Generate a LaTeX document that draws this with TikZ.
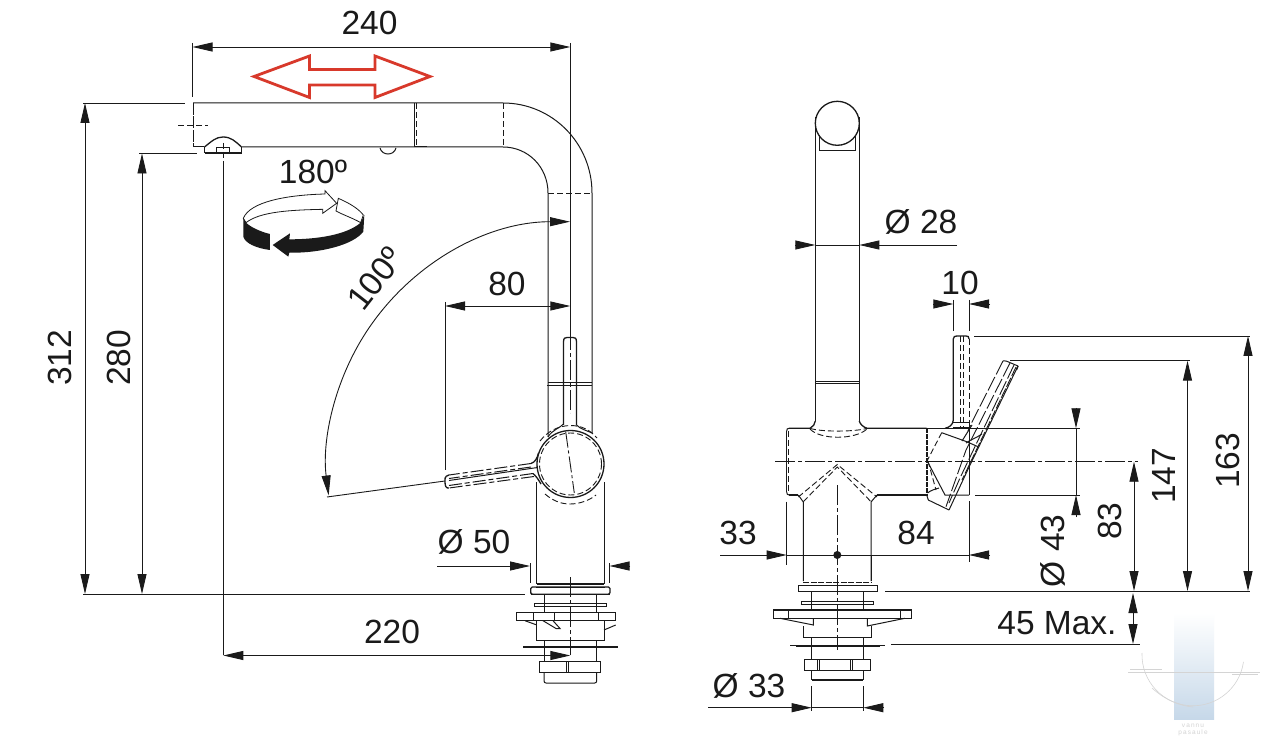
\documentclass[tikz,border=0pt]{standalone}
\usepackage{fontspec}
\setmainfont{Liberation Sans}
\usetikzlibrary{arrows.meta}
\definecolor{ink}{HTML}{1A1A1A}
\definecolor{redarrow}{HTML}{D8392B}
\definecolor{wm}{HTML}{C6D8E9}
\definecolor{wmline}{HTML}{D4D4D4}
\tikzset{
  lab/.style={font=\fontsize{33.5}{33.5}\selectfont,text=ink,inner sep=0pt},
  ln/.style={draw=ink,line width=1pt},
  thk/.style={draw=ink,line width=1.3pt},
  dimline/.style={draw=ink,line width=.9pt,-{Triangle[length=20pt,width=9pt]}},
  dimboth/.style={draw=ink,line width=.9pt,{Triangle[length=20pt,width=9pt]}-{Triangle[length=20pt,width=9pt]}},
  ext/.style={draw=ink,line width=.9pt},
  dashln/.style={draw=ink,line width=.9pt,dash pattern=on 6pt off 3pt},
  cline/.style={draw=ink,line width=.9pt,dash pattern=on 20pt off 3pt on 4pt off 3pt},
}
\begin{document}
\begin{tikzpicture}[x=1pt,y=-1pt]
\useasboundingbox (0,0) rectangle (1262,743);
\fill[white] (0,0) rectangle (1262,743);

%% watermark
\shade[top color=white,bottom color=wm] (1174,613) rectangle (1214,719);
\draw[wmline,line width=.6pt] (1142,653) arc[start angle=178,end angle=352,radius=51pt];
\draw[wmline,line width=.6pt] (1152,688) .. controls (1165,700) and (1180,706) .. (1193,707);
\draw[wmline,line width=.6pt] (1128,672) -- (1260,672);
\draw[wmline,line width=.6pt] (1130,669) -- (1162,669);
\draw[wmline,line width=.6pt] (1232,674) -- (1258,674);
\node[inner sep=0pt,text=wmline,font=\fontsize{6.5}{6.5}\selectfont] (wm1) at (1193,726) {v\,a\,n\,n\,u};
\node[inner sep=0pt,text=wmline,font=\fontsize{6.5}{6.5}\selectfont] (wm2) at (1193,733) {p\,a\,s\,a\,u\,l\,e};

%%%%%%%%%% LEFT VIEW
%% spout
\draw[ln] (193,103) -- (503,103) .. controls (552,103) and (592,143) .. (592,193) -- (592,433);
\draw[ln] (193,147) -- (204,147);
\draw[ln] (242,147) -- (503,147) .. controls (528,147) and (548,167) .. (548,193) -- (548,437);
\draw[draw=ink,line width=1.8pt,dash pattern=on 12pt off 1.5pt] (193.5,103) -- (193.5,147);
\draw[dashln] (178,125.5) -- (208,125.5);
\draw[dashln] (503,103) -- (503,147);
\draw[ln] (414,103) -- (414,147);
\draw[dashln] (416.5,103) -- (416.5,147);
\draw[thk] (414,146.5) -- (427,146.5);
\draw[ln] (380,148) .. controls (382,156) and (394,156) .. (396,148);
\draw[dashln] (548,193) -- (592,193);
\draw[ln] (548,383) -- (592,383);
\draw[ln] (547,385.5) -- (592,385.5);
%% aerator
\draw[thk] (204.5,147) .. controls (212,141) and (216,137) .. (223,137) .. controls (231,137) and (235,141) .. (241.5,147);
\draw[draw=ink,line width=1.6pt] (204.5,153) -- (241.5,153);
\draw[ln] (204.5,147) -- (204.5,153) (241.5,147) -- (241.5,153);
\draw[ln] (216.5,153) rectangle (229.5,147.5);
\draw[dashln] (223.3,143) -- (223.3,162);
\draw[ext] (223.3,162) -- (223.3,655);

%% red arrow
\draw[redarrow,line width=2.8pt,line join=miter,miter limit=10] (254,76.5) -- (309.5,56) -- (309.5,69.5) -- (375,69.5) -- (375,56) -- (430,76.5) -- (375,97.5) -- (375,85) -- (309.5,85) -- (309.5,97.5) -- cycle;

%% handle (vertical position)
\draw[ln] (548,437) .. controls (552,430) and (560,428) .. (563.5,424);
\draw[thk] (563.5,425) -- (563.5,342) .. controls (563.5,338) and (565,337.5) .. (567,337.5) -- (573,337.5) .. controls (575,337.5) and (576.5,338) .. (576.5,342) -- (576.5,425);
\draw[ext] (570.3,43) -- (570.3,330);
\draw[cline] (570.3,330) -- (570.3,413);
\draw[ln] (576.5,425) .. controls (580,429) and (588,431) .. (592,433);
%% head circle
\draw[thk] (570.5,464) circle[radius=33.5pt];
\draw[dashln] (570.5,464) circle[radius=31pt];
\draw[dashln] (540,441) .. controls (548,431) and (558,426) .. (570,425.5) .. controls (582,425.5) and (590,430) .. (597,438);
\draw[dashln] (545,494) .. controls (552,500) and (560,504) .. (570,504) .. controls (580,504) and (590,500) .. (596,495);
\draw[draw=ink,line width=.9pt,dash pattern=on 16pt off 3pt on 3pt off 3pt] (565.7,431.7) -- (574.3,493);
%% lever
\draw[thk] (538.5,453) .. controls (537,459) and (535,462) .. (531,463.5);
\draw[draw=ink,line width=1pt,dash pattern=on 13pt off 3pt on 5pt off 3pt] (531,463.5) -- (449,475);
\draw[draw=ink,line width=1pt,dash pattern=on 13pt off 3pt on 5pt off 3pt] (531,467) -- (449,478.5);
\draw[ln] (537.5,467.5) -- (449,480.5);
\draw[draw=ink,line width=1pt,dash pattern=on 13pt off 3pt on 5pt off 3pt] (533,473.5) -- (449,485.5);
\draw[draw=ink,line width=1pt,dash pattern=on 13pt off 3pt on 5pt off 3pt] (534,476.5) -- (449,488);
\draw[thk] (533,473.5) .. controls (536,476) and (538,479) .. (541,484);
\draw[thk] (449,475) .. controls (444,476) and (445,480) .. (445,482) .. controls (445,486) and (446,488.5) .. (449,488);
%% rotation ray
\draw[ext] (445,481) -- (327,497);

%% base
\draw[ln] (536.5,482) -- (536.5,584);
\draw[ln] (604,482) -- (604,584);
\draw[thk] (536.5,584) -- (604,584);
\draw[ln] (536,587) -- (605,587);
\draw[thk,rounded corners=1.5pt] (530.7,587) rectangle (610,594.3);
\draw[draw=ink,line width=1.6pt] (530.7,594.3) -- (610,594.3);
\draw[ln] (544,594) -- (544,612) (596.7,594) -- (596.7,612);
\draw[ln] (534,603.3) rectangle (606.7,606.5);
\draw[thk] (516.7,612.3) rectangle (615.7,620.7);
\draw[ln] (533.3,612.3) -- (533.3,620.7) (554.3,612.3) -- (554.3,620.7) (598.3,612.3) -- (598.3,620.7);
\draw[ln] (536.5,620.7) -- (536.5,640) -- (604,640) -- (604,620.7);
\draw[ln] (525,620.7) -- (536,624.7);
\draw[ln] (543,620.7) -- (556,628.5) -- (560,628.5) -- (553,620.7);
\draw[ln] (604,630) -- (615.7,625);
\draw[draw=ink,line width=2pt] (523,647) -- (617.7,647);
\draw[ln] (544,640) -- (544,662) (596.7,640) -- (596.7,662);
\draw[thk] (539.3,661.7) rectangle (600.7,672.3);
\draw[ln] (566.5,661.7) -- (566.5,672.3) (568.5,661.7) -- (568.5,672.3);
\draw[ln,rounded corners=2pt] (544,672.3) -- (544,683) -- (596.7,683) -- (596.7,672.3);
\draw[cline] (570.3,577) -- (570.3,655);

%% icon 180
\begin{scope}[shift={(230,180)},x=.3333pt,y=-.3333pt]
\draw[ink,fill=white,line width=.8pt] (325,55) .. controls (355,68) and (385,85) .. (400,105) -- (392,128) .. controls (370,115) and (340,105) .. (318,93) -- cycle;
\draw[ink,fill=white,line width=.8pt] (40,115) .. controls (60,65) and (170,45) .. (285,42) -- (285,32) -- (320,70) -- (278,100) -- (278,88) .. controls (180,90) and (90,95) .. (48,128) -- cycle;
\fill[ink] (40,115) -- (48,128) .. controls (60,140) and (90,155) .. (120,162) -- (120,210) .. controls (80,205) and (45,190) .. (40,170) -- cycle;
\fill[ink] (128,195) -- (180,160) -- (178,178) .. controls (260,178) and (350,165) .. (392,128) -- (403,105) -- (400,155) .. controls (370,195) and (270,220) .. (178,218) -- (175,230) -- cycle;
\end{scope}

%% dims left
\draw[ext] (192,43) -- (192,97);
\draw[dimboth] (192.5,47) -- (570.3,47);
\draw[ext] (83,103) -- (185,103);
\draw[dimboth] (85,103) -- (85,594);
\draw[ext] (83,594) -- (525,594);
\draw[ext] (139,153) -- (197,153);
\draw[dimboth] (142,153.5) -- (142,594);
\draw[dimboth] (223.3,655.5) -- (570.3,655.5);
\draw[dimboth] (445,306) -- (570.3,306);
\draw[ext] (445,302) -- (445,470);
\draw[dimline] (437,566) -- (530,566);
\draw[dimline] (630,566) -- (609.5,566);
\draw[ext] (530,563) -- (530,583) (609.5,563) -- (609.5,583);
\draw[ext,{Triangle[length=20pt,width=9pt]}-{Triangle[length=20pt,width=9pt]}] (570,221.7) arc[start angle=90,end angle=187.2,radius=243.3pt];

\node[lab] (t240) at (369.5,23) {240};
\node[lab] (t180) at (313,172) {180º};
\node[lab,rotate=52] (t100) at (375,279) {100º};
\node[lab] (t80) at (507,284) {80};
\node[lab,rotate=90] (t312) at (60,358) {312};
\node[lab,rotate=90] (t280) at (119,358) {280};
\node[lab] (t50) at (474,542) {Ø 50};
\node[lab] (t220) at (392,632) {220};

%%%%%%%%%% RIGHT VIEW
\draw[thk] (837.3,123.3) circle[radius=22pt];
\draw[ln] (815.3,117) -- (815.3,421);
\draw[ln] (859.3,117) -- (859.3,421);
\draw[ln] (819.3,135) -- (819.3,151) -- (855,151) -- (855,135);
\draw[ln] (815.3,381.5) -- (859.3,381.5) (815.3,383.8) -- (859.3,383.8);
%% T body
\draw[thk] (789,428.3) -- (810,428.3) .. controls (813,427) and (815,424) .. (815.3,421);
\draw[thk] (859.3,421) .. controls (860,424) and (863,427) .. (867,428.3) -- (926.7,428.3);
\draw[ln] (926.7,428.3) -- (1080,428.3);
\draw[thk] (786.7,431) -- (786.7,492);
\draw[dashln] (788.8,431) -- (788.8,492);
\draw[ln] (786.7,431) .. controls (786.7,429) and (787.5,428.3) .. (789,428.3);
\draw[thk] (789,495) -- (798.3,495) (877,495) -- (926.7,495);
\draw[ln] (786.7,492) .. controls (786.7,494) and (787.5,495) .. (789,495);
\draw[ln] (798.3,495) -- (803.3,502) -- (803.3,581);
\draw[ln] (877,495) -- (871,502) -- (871,581);
%% dashed inside
\draw[dashln] (810,428.3) .. controls (820,432) and (855,432) .. (867,428.3);
\draw[dashln] (810,429) .. controls (820,440) and (855,440) .. (867,429);
\draw[dashln] (798.3,497) -- (837.3,464.5) -- (877,497);
\draw[dashln] (803.3,501.7) -- (837.3,467) -- (871,501.7);
%% centre lines
\draw[cline] (775,461.7) -- (925,461.7);
\draw[cline] (925,461.7) -- (1138,461.7);
\draw[cline] (837.3,485) -- (837.3,650);
\fill[ink] (837.3,555) circle[radius=4pt];

%% handle
\draw[draw=ink,line width=2.2pt,dash pattern=on 5pt off 1pt] (926.7,428) -- (926.7,495.5);
\draw[thk] (945,428.3) .. controls (949,427.5) and (953,425) .. (953.3,420) -- (953.3,339) .. controls (953.3,336.5) and (955,336) .. (957,336) -- (966,336) .. controls (968,336) and (969,336.5) .. (969,339);
\draw[dashln] (960.7,336) -- (960.7,427);
\draw[dashln] (963.5,336) -- (963.5,427);
\draw[dashln] (969,339) -- (969,495);
\draw[ln] (969,424) -- (969,495);
\draw[ln] (953.3,423) -- (969,423) (953.3,428) -- (969,428);
\draw[ln] (926.7,460) -- (945,495) -- (969,495);
\draw[ln] (941.7,432.7) -- (966.7,441.7) -- (978,446.7);
\draw[dashln] (941.7,432.7) -- (927,461);
\draw[dashln] (928,461) -- (936,490);
\draw[ln] (927.5,493) .. controls (931,490) and (936,489) .. (939,488);
\draw[ln] (928.3,500) -- (949,510);
\draw[ln] (928.3,500) -- (926.7,495);
%% tilted lever
\draw[ln,rounded corners=1.5pt] (1003,361) -- (1005,360.5) -- (1018,366);
\draw[thk] (1018,366) -- (1016.5,370);
\draw[draw=ink,line width=.9pt,dash pattern=on 15pt off 3pt] (1003,361) -- (973,420) -- (968,431);
\draw[draw=ink,line width=.9pt,dash pattern=on 15pt off 3pt] (1010,363) -- (966,450) -- (946,506.7);
\draw[draw=ink,line width=.9pt,dash pattern=on 15pt off 3pt] (1014,365) -- (960,478) -- (949,503);
\draw[draw=ink,line width=.9pt,dash pattern=on 10pt off 2pt] (1016,367) -- (962,480);
\draw[ln] (1018,366) -- (970,465) -- (949,510);
\draw[ln] (962,441) -- (972,425);
\draw[ln] (966,443) .. controls (970,440) and (976,438) .. (982,434);
%% base right
\draw[draw=ink,line width=1.6pt,dash pattern=on 6pt off 1.5pt] (803,582.5) -- (871.5,582.5);
\draw[thk] (798.3,585.7) rectangle (877.3,591.5);
\draw[draw=ink,line width=1.6pt] (798.3,591.5) -- (877.3,591.5);
\draw[ln] (811.7,591.5) -- (811.7,610) (863.3,591.5) -- (863.3,610);
\draw[ln] (801.7,601.7) rectangle (873.3,604.4);
\draw[thk] (773.3,610) rectangle (911.7,618.3);
\draw[ln] (788.3,610) -- (788.3,618.3) (900.7,610) -- (900.7,618.3);
\draw[ln] (803.3,626) -- (803.3,637.3) -- (871.7,637.3) -- (871.7,626);
\draw[ln] (780,618.3) -- (813.3,625) -- (813.3,618.3);
\draw[ln] (867.3,618.3) -- (867.3,626) -- (905,618.3);
\draw[ln] (790,645.3) -- (885,645.3);
\draw[draw=ink,line width=1.6pt] (796,645.8) -- (880,645.8);
\draw[ln] (811.7,637.3) -- (811.7,659) (863.3,637.3) -- (863.3,659);
\draw[ln] (804.3,659.3) rectangle (870.7,670.7);
\draw[ln] (817.7,659.3) -- (817.7,670.7) (819.5,659.3) -- (819.5,670.7) (850.7,659.3) -- (850.7,670.7) (852.5,659.3) -- (852.5,670.7);
\draw[ln] (811.7,670.7) -- (811.7,680) (863.3,670.7) -- (863.3,680);
\draw[draw=ink,line width=1.6pt] (811.7,680) -- (863.3,680);

%% dims right
\draw[dimline] (795,245) -- (815.3,245);
\draw[dimline] (957,245) -- (859.3,245);
\draw[ext] (815.3,245) -- (859.3,245);
\draw[dimline] (933,304) -- (953.3,304);
\draw[dimline] (990,304) -- (969,304);
\draw[ext] (953.3,300) -- (953.3,331) (969,300) -- (969,331);
\draw[ext] (974,336) -- (1250,336);
\draw[ext] (1010,360.7) -- (1190,360.7);
\draw[dimboth] (1248,336) -- (1248,591);
\draw[dimboth] (1187.5,360.7) -- (1187.5,591);
\draw[dimboth] (1134,461.7) -- (1134,591);
\draw[ext] (885,591) -- (1250,591);
\draw[dimline] (1076,408) -- (1076,428.3);
\draw[dimline] (1076,517) -- (1076,495);
\draw[ext] (1076,428.3) -- (1076,495);
\draw[ext] (975,495) -- (1080,495);
\draw[ext] (891,644.3) -- (1140,644.3);
\draw[dimline] (1133,623) -- (1133,593);
\draw[dimline] (1133,623) -- (1133,644);
\draw[dimline] (720,555) -- (786.7,555);
\draw[ext] (786.7,555) -- (969,555);
\draw[dimline] (990,555) -- (969,555);
\draw[ext] (786.7,501.7) -- (786.7,565) (969,501) -- (969,562);
\draw[ext] (803.3,581) -- (803.3,555) (871,581) -- (871,555);
\draw[dimline] (708,707.7) -- (811.7,707.7);
\draw[dimline] (884,707.7) -- (863.3,707.7);
\draw[ext] (811.7,707.7) -- (863.3,707.7);
\draw[ext] (811.7,686) -- (811.7,711) (863.3,686) -- (863.3,711);

\node[lab] (t28) at (921,222) {Ø 28};
\node[lab] (t10) at (960,283) {10};
\node[lab] (t33a) at (738,533) {33};
\node[lab] (t84) at (916,533) {84};
\node[lab,rotate=90] (t43) at (1053,551) {Ø 43};
\node[lab,rotate=90] (t83) at (1110,521) {83};
\node[lab,rotate=90] (t147) at (1164,476) {147};
\node[lab,rotate=90] (t163) at (1228,461) {163};
\node[lab] (t45) at (1057,623) {45 Max.};
\node[lab] (t33b) at (749,686) {Ø 33};
\end{tikzpicture}
\end{document}
